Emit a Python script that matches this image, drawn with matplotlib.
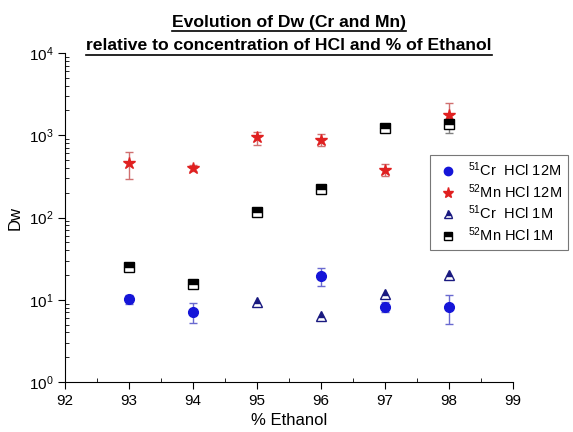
import matplotlib
matplotlib.use("Agg")
import matplotlib.pyplot as plt
from matplotlib.lines import Line2D
import numpy as np
from matplotlib.ticker import LogLocator, MultipleLocator

plt.rcParams['font.family'] = ['Liberation Sans', 'DejaVu Sans']
plt.rcParams['mathtext.default'] = 'regular'

ethanol = [93, 94, 95, 96, 97, 98]

# 51Cr HCl 12M (no point visible at 95)
cr12 = [10.2, 7.1, np.nan, 19.4, 8.2, 8.2]
cr12_lo = [8.9, 5.2, np.nan, 14.7, 7.0, 5.1]
cr12_hi = [11.4, 9.1, np.nan, 24.5, 9.5, 11.3]

# 52Mn HCl 12M
mn12 = [456, 400, 944, 880, 378, 1760]
mn12_lo = [296, 365, 761, 746, 320, 1300]
mn12_hi = [621, 440, 1105, 1035, 443, 2490]

# 51Cr HCl 1M
cr1_x = [95, 96, 97, 98]
cr1 = [9.3, 6.3, 11.6, 20.0]

# 52Mn HCl 1M
mn1 = [24.8, 15.4, 118, 222, 1236, 1381]
mn1_lo = [24.8, 15.4, 118, 222, 1236, 1065]
mn1_hi = [24.8, 15.4, 118, 222, 1236, 1500]

labels = ['$^{51}$Cr  HCl 12M', '$^{52}$Mn HCl 12M', '$^{51}$Cr  HCl 1M', '$^{52}$Mn HCl 1M']


def errs(v, lo, hi):
    v, lo, hi = np.array(v), np.array(lo), np.array(hi)
    return [v - lo, hi - v]


fig = plt.figure(figsize=(5.73, 4.32), dpi=100)
ax = fig.add_axes([65 / 573, 1 - 382 / 432, (513 - 65) / 573, (382 - 53) / 432])

blue, red, navy = '#1515d8', '#e02020', '#1a1a80'
ax.errorbar(ethanol, cr12, yerr=errs(cr12, cr12_lo, cr12_hi), fmt='o', color=blue,
            ms=7, ecolor='#6a6ad0', elinewidth=1, capsize=3)
ax.errorbar(ethanol, mn12, yerr=errs(mn12, mn12_lo, mn12_hi), fmt='*', color=red,
            ms=9, ecolor='#d07070', elinewidth=1, capsize=3)
ax.plot(cr1_x, cr1, '^', color=navy, mfc=navy, mfcalt='white', fillstyle='top',
        ms=7, mew=1, linestyle='none')
ax.errorbar(ethanol, mn1, yerr=errs(mn1, mn1_lo, mn1_hi), fmt='s', color='black',
            mfc='black', fillstyle='top', ms=6.5, mew=1, ecolor='#808080', elinewidth=1,
            capsize=3)
for ln in ax.get_lines():
    if ln.get_marker() == 's':
        ln.set_markerfacecoloralt('white')

ax.set_yscale('log')
ax.set_ylim(1, 1e4)
ax.set_xlim(92, 99)
ax.xaxis.set_major_locator(MultipleLocator(1))
ax.xaxis.set_minor_locator(MultipleLocator(0.5))
ax.yaxis.set_major_locator(LogLocator(base=10, numticks=10))
ax.yaxis.set_minor_locator(LogLocator(base=10, subs=np.arange(2, 10), numticks=10))

for s in ['top', 'right']:
    ax.spines[s].set_visible(False)
ax.tick_params(which='major', direction='out', length=5, labelsize=11)
ax.tick_params(axis='x', which='minor', direction='in', length=3)
ax.tick_params(axis='y', which='minor', direction='in', length=3)

ax.set_xlabel('% Ethanol', fontsize=12)
ax.set_ylabel('Dw', fontsize=12)

handles = [
    Line2D([], [], marker='o', color=blue, ls='none', ms=6),
    Line2D([], [], marker='*', color=red, ls='none', ms=8),
    Line2D([], [], marker='^', color=navy, mfc=navy, mfcalt='white', fillstyle='top',
           ls='none', ms=6),
    Line2D([], [], marker='s', color='black', mfc='black', mfcalt='white', fillstyle='top',
           ls='none', ms=5.5),
]
leg = fig.legend(handles, labels, loc='upper left', bbox_to_anchor=(430 / 573, 1 - 155 / 432),
                 fontsize=10.5, frameon=True, fancybox=False, edgecolor='#555555',
                 handletextpad=0.6, handlelength=1.6, labelspacing=0.2, borderpad=0.4,
                 borderaxespad=0)
leg.get_frame().set_linewidth(0.8)

lines = ['Evolution of Dw (Cr and Mn)', 'relative to concentration of HCl and % of Ethanol']
ys = [22, 46]
texts = [fig.text(289 / 573, 1 - y / 432, t, ha='center', va='center', fontsize=12.6,
                  fontweight='bold') for t, y in zip(lines, ys)]
fig.canvas.draw()
r = fig.canvas.get_renderer()
for t in texts:
    bb = t.get_window_extent(r).transformed(fig.transFigure.inverted())
    fig.add_artist(Line2D([bb.x0, bb.x1], [bb.y0 - 0.004, bb.y0 - 0.004],
                          transform=fig.transFigure, color='black', lw=1.2))

fig.savefig('out.png', dpi=100)
